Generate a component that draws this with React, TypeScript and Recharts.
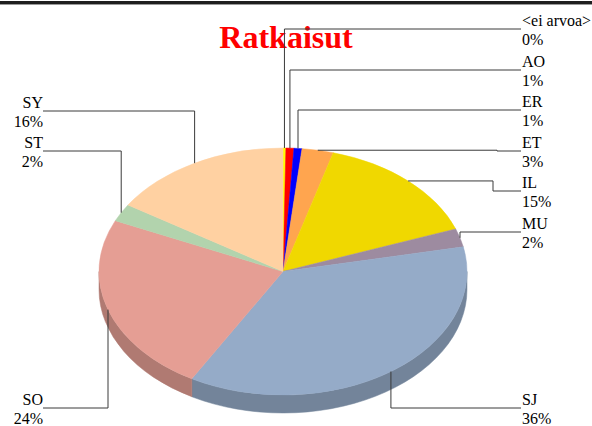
import React from 'react';
import { PieChart, Pie, Cell } from 'recharts';

const categories = ['<ei arvoa>', 'AO', 'ER', 'ET', 'IL', 'MU', 'SJ', 'SO', 'ST', 'SY'];
const shares = [0.25, 0.7, 0.7, 2.75, 15.0, 2.4, 36.45, 23.5, 2.3, 15.95];
const sliceColors = ['#ffff00', '#ff0000', '#0000ff', '#ffa54f', '#f0d800', '#9d8ba0', '#95abc8', '#e59e94', '#b2d3ad', '#ffd1a2'];

// label layout (which column, the leader row, optional elbow)
const labelSide = ['right', 'right', 'right', 'right', 'right', 'right', 'right', 'left', 'left', 'left'];
const labelRowY = [29, 70, 110, 151, 191, 232, 408, 408, 151, 111];
const labelElbowX: (number | null)[] = [null, null, null, 497, 493, null, null, null, null, null];

const W = 592;
const H = 426;
const CX = 283;
const CY = 271.5;
const RX = 184;
const RY = 123.5;
const DEPTH = 18;
const RIGHT_COL = 522;
const LEFT_COL = 43;
const RAD = Math.PI / 180;
const SERIF = "'Liberation Serif', 'Times New Roman', Times, serif";

const data = categories.map((name, i) => ({ name, value: shares[i] }));

function pt(cx: number, cy: number, a: number, dy = 0): [number, number] {
  return [cx + RX * Math.cos(a * RAD), cy - RY * Math.sin(a * RAD) + dy];
}

function darken(hex: string, f: number) {
  const n = parseInt(hex.slice(1), 16);
  const r = Math.round(((n >> 16) & 255) * f);
  const g = Math.round(((n >> 8) & 255) * f);
  const b = Math.round((n & 255) * f);
  return `rgb(${r},${g},${b})`;
}

function EllipseSector(props: any) {
  const { cx, cy, startAngle, endAngle, fill } = props;
  const hi = Math.max(startAngle, endAngle);
  const lo = Math.min(startAngle, endAngle);
  const p1 = pt(cx, cy, hi);
  const p2 = pt(cx, cy, lo);
  const large = hi - lo > 180 ? 1 : 0;
  const top = `M${cx},${cy} L${p1[0]},${p1[1]} A${RX},${RY} 0 ${large} 1 ${p2[0]},${p2[1]} Z`;
  let side: string | null = null;
  const a1 = Math.min(hi, 0);
  const a2 = Math.max(lo, -180);
  if (a1 > a2) {
    const q1 = pt(cx, cy, a1);
    const q2 = pt(cx, cy, a2);
    const q3 = pt(cx, cy, a2, DEPTH);
    const q4 = pt(cx, cy, a1, DEPTH);
    const l2 = a1 - a2 > 180 ? 1 : 0;
    side = `M${q1[0]},${q1[1]} A${RX},${RY} 0 ${l2} 1 ${q2[0]},${q2[1]} L${q3[0]},${q3[1]} A${RX},${RY} 0 ${l2} 0 ${q4[0]},${q4[1]} Z`;
  }
  return (
    <g>
      {side && <path d={side} fill={darken(fill, 0.77)} stroke={darken(fill, 0.77)} strokeWidth={0.5} />}
      <path d={top} fill={fill} stroke={fill} strokeWidth={0.5} />
    </g>
  );
}

function renderLabel(props: any) {
  const { cx, cy, midAngle, index, percent } = props;
  const [ax, ay] = pt(cx, cy, midAngle);
  const rowY = labelRowY[index];
  const right = labelSide[index] === 'right';
  const colX = right ? RIGHT_COL - 1 : LEFT_COL;
  const elbow = labelElbowX[index];
  const d = elbow != null
    ? `M${ax},${ay} L${elbow},${ay} L${elbow},${rowY} L${colX},${rowY}`
    : `M${ax},${ay} L${ax},${rowY} L${colX},${rowY}`;
  const tx = right ? RIGHT_COL : LEFT_COL;
  const anchor = right ? 'start' : 'end';
  const ts = { fontFamily: SERIF, fontSize: 16 };
  return (
    <g key={`lbl-${index}`}>
      <path d={d} fill="none" stroke="#3a3a3a" strokeWidth={1} />
      <text x={tx} y={rowY - 3} textAnchor={anchor} style={ts} fill="#000">
        {categories[index]}
      </text>
      <text x={tx} y={rowY + 16} textAnchor={anchor} style={ts} fill="#000">
        {`${Math.round(percent * 100)}%`}
      </text>
    </g>
  );
}

export default function App() {
  return (
    <div style={{ position: 'absolute', left: 0, top: 0, width: W, height: H, background: '#fff', overflow: 'hidden' }}>
      <div style={{ position: 'absolute', left: 0, top: 1, width: W, height: 3, background: '#1e1e1e' }} />
      <div style={{ position: 'absolute', left: 0, top: 4, width: W, height: 1, background: '#9a9a9a' }} />
      <div
        style={{
          position: 'absolute',
          left: 0,
          width: W,
          top: 17,
          textAlign: 'center',
          fontFamily: SERIF,
          fontWeight: 'bold',
          fontSize: 32,
          lineHeight: '40px',
          color: '#ff0000',
        }}
      >
        <span style={{ position: 'relative', left: -10 }}>Ratkaisut</span>
      </div>
      <div style={{ position: 'absolute', left: 0, top: 0 }}>
        <PieChart width={W} height={H} margin={{ top: 0, right: 0, bottom: 0, left: 0 }}>
          <Pie
            data={data}
            dataKey="value"
            nameKey="name"
            cx={CX}
            cy={CY}
            outerRadius={RX}
            innerRadius={0}
            startAngle={90}
            endAngle={-270}
            isAnimationActive={false}
            shape={EllipseSector}
            inactiveShape={EllipseSector}
            activeShape={EllipseSector}
            label={renderLabel}
            labelLine={false}
            stroke="none"
          >
            {data.map((d, i) => (
              <Cell key={d.name} fill={sliceColors[i]} />
            ))}
          </Pie>
        </PieChart>
      </div>
    </div>
  );
}
